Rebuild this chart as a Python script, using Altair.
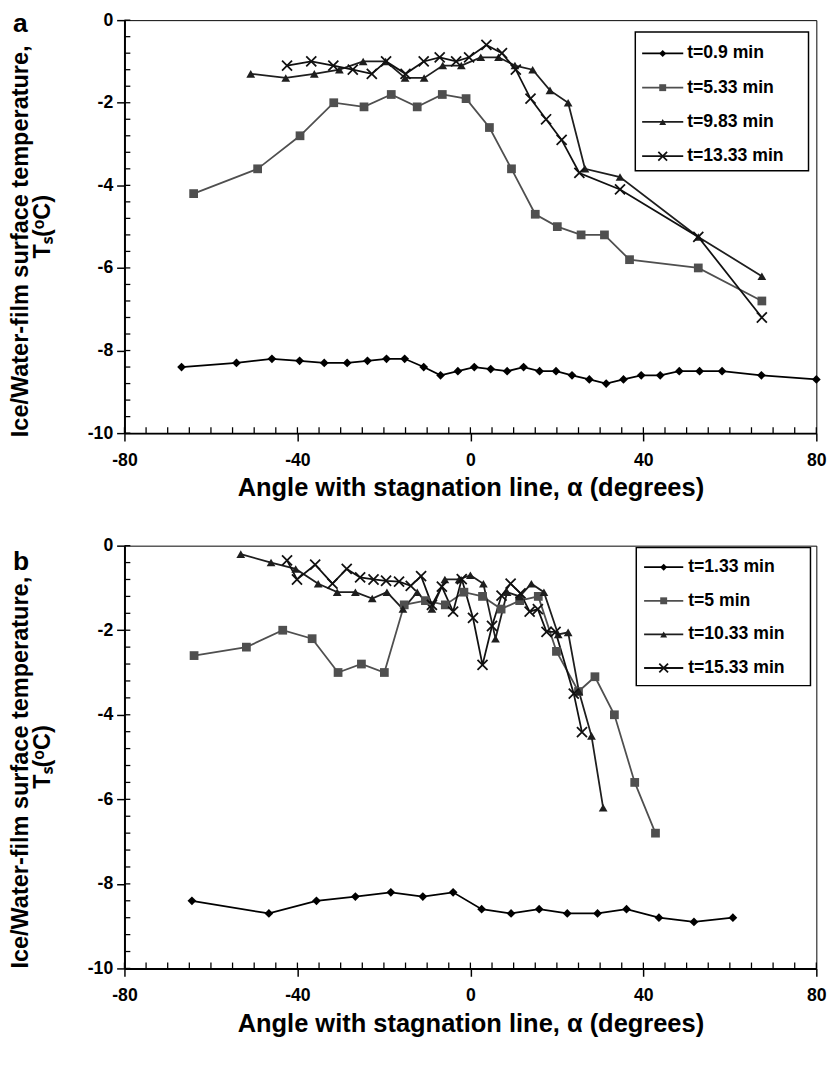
import altair as alt
import pandas as pd

FONT = "Liberation Sans"

# ---------------- Panel a data ----------------
A_LABELS = ["t=0.9 min", "t=5.33 min", "t=9.83 min", "t=13.33 min"]
A1_X = [-66.8, -54.1, -45.9, -39.5, -33.8, -28.5, -23.8, -19.4, -15.2, -10.8, -6.9, -2.9, 0.9, 4.7,
        8.5, 12.3, 16.0, 19.8, 23.5, 27.5, 31.4, 35.4, 39.5, 43.9, 48.3, 53.0, 58.2, 67.3, 80.0]
A1_Y = [-8.4, -8.3, -8.2, -8.25, -8.3, -8.3, -8.25, -8.2, -8.2, -8.4, -8.6, -8.5, -8.4, -8.45,
        -8.5, -8.4, -8.5, -8.5, -8.6, -8.7, -8.8, -8.7, -8.6, -8.6, -8.5, -8.5, -8.5, -8.6, -8.7]
A2_X = [-64.0, -49.2, -39.4, -31.6, -24.6, -18.3, -12.3, -6.5, -1.0, 4.4, 9.5, 15.0, 20.1, 25.6,
        31.0, 36.8, 52.7, 67.4]
A2_Y = [-4.2, -3.6, -2.8, -2.0, -2.1, -1.8, -2.1, -1.8, -1.9, -2.6, -3.6, -4.7, -5.0, -5.2,
        -5.2, -5.8, -6.0, -6.8]
A3_X = [-50.8, -42.7, -36.1, -30.3, -24.8, -19.6, -15.1, -10.7, -6.4, -2.1, 2.4, 6.5, 10.3, 14.4,
        18.4, 22.6, 26.5, 34.6, 52.7, 67.4]
A3_Y = [-1.3, -1.4, -1.3, -1.2, -1.0, -1.0, -1.4, -1.4, -1.1, -1.1, -0.9, -0.9, -1.1, -1.2,
        -1.7, -2.0, -3.6, -3.8, -5.25, -6.2]
A4_X = [-42.4, -36.8, -31.7, -27.2, -22.8, -19.5, -15.0, -10.8, -7.1, -3.3, -0.3, 3.7, 7.3, 10.5,
        13.9, 17.5, 21.1, 25.2, 34.6, 52.7, 67.4]
A4_Y = [-1.1, -1.0, -1.1, -1.2, -1.3, -1.0, -1.3, -1.0, -0.9, -1.0, -0.9, -0.6, -0.8, -1.2,
        -1.9, -2.4, -2.9, -3.7, -4.1, -5.25, -7.2]

# ---------------- Panel b data ----------------
B_LABELS = ["t=1.33 min", "t=5 min", "t=10.33 min", "t=15.33 min"]
B1_X = [-64.4, -46.6, -35.6, -26.6, -18.4, -11.0, -4.0, 2.6, 9.4, 15.9, 22.4, 29.4, 36.1, 43.6, 51.7, 60.7]
B1_Y = [-8.4, -8.7, -8.4, -8.3, -8.2, -8.3, -8.2, -8.6, -8.7, -8.6, -8.7, -8.7, -8.6, -8.8, -8.9, -8.8]
B2_X = [-63.9, -51.8, -43.4, -36.6, -30.6, -25.2, -19.9, -15.3, -10.4, -5.8, -1.5, 2.8, 7.1, 11.4,
        15.7, 19.9, 25.0, 28.8, 33.3, 38.0, 42.8]
B2_Y = [-2.6, -2.4, -2.0, -2.2, -3.0, -2.8, -3.0, -1.4, -1.3, -1.4, -1.1, -1.2, -1.5, -1.3,
        -1.2, -2.5, -3.45, -3.1, -4.0, -5.6, -6.8]
B3_X = [-53.1, -46.1, -40.4, -35.2, -30.8, -26.6, -22.7, -19.3, -15.6, -12.3, -8.9, -5.9, -2.6, 0.0,
        3.0, 5.8, 8.5, 11.4, 14.1, 17.0, 20.3, 22.6, 25.1, 28.0, 30.7]
B3_Y = [-0.2, -0.4, -0.55, -0.9, -1.1, -1.1, -1.25, -1.1, -1.5, -1.1, -1.5, -0.8, -0.8, -0.7,
        -0.9, -2.2, -1.1, -1.2, -0.9, -1.1, -2.1, -2.05, -3.45, -4.5, -6.2]
B4_X = [-42.4, -40.1, -35.9, -31.9, -28.6, -25.5, -22.4, -19.5, -16.5, -13.8, -11.4, -8.9, -6.6, -4.0,
        -2.0, 0.6, 2.8, 5.0, 7.2, 9.3, 11.6, 13.7, 15.6, 17.6, 19.7, 23.9, 25.8]
B4_Y = [-0.35, -0.8, -0.45, -0.9, -0.55, -0.75, -0.8, -0.83, -0.85, -0.95, -0.72, -1.4, -0.97, -1.56,
        -0.79, -1.71, -2.82, -1.9, -1.18, -0.9, -1.13, -1.56, -1.5, -2.04, -2.04, -3.5, -4.41]

# ticks
X_MAJOR = [-80, -40, 0, 40, 80]
Y_MAJOR = [0, -2, -4, -6, -8, -10]
X_MINOR = [v for v in range(-80, 81, 5)]
Y_MINOR = [round(-0.4 * k, 2) for k in range(0, 26)]

X_TITLE = "Angle with stagnation line, α (degrees)"
Y_TITLE1 = "Ice/Water-film surface temperature,"
Y_TITLE2 = "Tₛ(ᵒC)"

COLORS = ["#000000", "#4f4f4f", "#1e1e1e", "#111111"]
XPATH = "M-1,-1L1,1M-1,1L1,-1"
SHAPES = ["diamond", "square", "triangle-up", XPATH]

W = 707
TITLE_SIZE = 26
YTITLE_SIZE = 24
TICK_SIZE = 18
LEG_SIZE = 18


def build_panel(labels, xs, ys, height, letter, leg):
    rows = []
    for lab, xx, yy in zip(labels, xs, ys):
        for i, (a, b) in enumerate(zip(xx, yy)):
            rows.append({"series": lab, "x": a, "y": b, "i": i})
    df = pd.DataFrame(rows)

    xscale = alt.Scale(domain=[-80, 80], nice=False, zero=False)
    yscale = alt.Scale(domain=[-10, 0], nice=False, zero=False)
    color = alt.Color("series:N", scale=alt.Scale(domain=labels, range=COLORS), legend=None)
    shape = alt.Shape("series:N", scale=alt.Scale(domain=labels, range=SHAPES), legend=None)

    xaxis = alt.Axis(values=X_MAJOR, title=X_TITLE, tickSize=8, tickWidth=1.5, labelPadding=11,
                     titlePadding=6, domainWidth=2, labelFlush=False,
                     labelExpr="datum.value + ''")
    yaxis = alt.Axis(values=Y_MAJOR, title=None, tickSize=8, tickWidth=1.5, labelPadding=4,
                     domainWidth=2, labelFlush=False, labelExpr="datum.value + ''")

    base = alt.Chart(df)
    lines = base.mark_line(strokeWidth=1.8).encode(
        x=alt.X("x:Q", scale=xscale, axis=xaxis),
        y=alt.Y("y:Q", scale=yscale, axis=yaxis),
        color=color, detail="series:N", order="i:Q")
    filled = base.transform_filter(
        alt.FieldOneOfPredicate(field="series", oneOf=labels[:3])
    ).mark_point(filled=True, size=80, opacity=1).encode(
        x=alt.X("x:Q", scale=xscale),
        y=alt.Y("y:Q", scale=yscale, axis=None),
        color=color, shape=shape)
    crosses = base.transform_filter(
        alt.FieldEqualPredicate(field="series", equal=labels[3])
    ).mark_point(filled=False, size=105, strokeWidth=1.8, opacity=1).encode(
        x=alt.X("x:Q", scale=xscale),
        y=alt.Y("y:Q", scale=yscale, axis=None),
        color=color, shape=shape)

    # minor ticks (inside)
    xm = alt.Chart(pd.DataFrame({"v": X_MINOR})).mark_rule(color="black", strokeWidth=1.3).encode(
        x=alt.X("v:Q", scale=xscale), y=alt.value(height), y2=alt.value(height - 6))
    ym = alt.Chart(pd.DataFrame({"v": Y_MINOR})).mark_rule(color="black", strokeWidth=1.3).encode(
        y=alt.Y("v:Q", scale=yscale, axis=None), x=alt.value(0), x2=alt.value(6))

    # legend
    ldf = pd.DataFrame({"series": labels, "k": [0, 1, 2, 3]})
    lscale = alt.Scale(domain=[0, 3], range=[leg["y0"], leg["y3"]])
    lbase = alt.Chart(ldf)
    box = alt.Chart(pd.DataFrame({"z": [0]})).mark_rect(
        fill="white", stroke="black", strokeWidth=1.5).encode(
        x=alt.value(leg["bx0"]), x2=alt.value(leg["bx1"]),
        y=alt.value(leg["by0"]), y2=alt.value(leg["by1"]))
    lrule = lbase.mark_rule(strokeWidth=1.8).encode(
        y=alt.Y("k:Q", scale=lscale, axis=None), x=alt.value(leg["lx0"]), x2=alt.value(leg["lx1"]),
        color=color)
    lpts = lbase.transform_filter(
        alt.FieldOneOfPredicate(field="series", oneOf=labels[:3])
    ).mark_point(filled=True, size=50, opacity=1).encode(
        y=alt.Y("k:Q", scale=lscale, axis=None), x=alt.value((leg["lx0"] + leg["lx1"]) / 2),
        color=color, shape=shape)
    lx = lbase.transform_filter(
        alt.FieldEqualPredicate(field="series", equal=labels[3])
    ).mark_point(filled=False, size=80, strokeWidth=1.8, opacity=1).encode(
        y=alt.Y("k:Q", scale=lscale, axis=None), x=alt.value((leg["lx0"] + leg["lx1"]) / 2),
        color=color, shape=shape)
    ltext = lbase.mark_text(align="left", baseline="middle", font=FONT, fontWeight="bold",
                            fontSize=LEG_SIZE, color="black").encode(
        y=alt.Y("k:Q", scale=lscale, axis=None), x=alt.value(leg["tx"]), text="series:N")

    one = pd.DataFrame({"z": [0]})
    letter_mark = alt.Chart(one).mark_text(align="left", baseline="alphabetic", font=FONT,
                                           fontWeight="bold", fontSize=27, color="black").encode(
        x=alt.value(-114), y=alt.value(leg["letter_y"]), text=alt.value(letter))
    yt1 = alt.Chart(one).mark_text(angle=270, align="center", baseline="middle", font=FONT,
                                   fontWeight="bold", fontSize=YTITLE_SIZE, color="black").encode(
        x=alt.value(-106), y=alt.value(height / 2 + leg["t1_off"]), text=alt.value(Y_TITLE1))
    yt2 = alt.Chart(one).mark_text(angle=270, align="center", baseline="middle", font=FONT,
                                   fontWeight="bold", fontSize=YTITLE_SIZE, color="black").encode(
        x=alt.value(-83), y=alt.value(height / 2), text=alt.value(Y_TITLE2))

    layer = alt.layer(lines, filled, crosses, xm, ym, box, lrule, lpts, lx, ltext,
                      letter_mark, yt1, yt2).resolve_scale(y="independent").properties(
        width=W, height=height)
    return layer


leg_a = dict(bx0=522, bx1=699, by0=12, by1=154, lx0=529, lx1=571, tx=575, y0=34, y3=139,
             letter_y=12, t1_off=15)
leg_b = dict(bx0=523, bx1=701, by0=2, by1=143, lx0=531, lx1=571, tx=576, y0=22, y3=125,
             letter_y=25, t1_off=16)

pa = build_panel(A_LABELS, [A1_X, A2_X, A3_X, A4_X], [A1_Y, A2_Y, A3_Y, A4_Y], 422, "a", leg_a)
pb = build_panel(B_LABELS, [B1_X, B2_X, B3_X, B4_X], [B1_Y, B2_Y, B3_Y, B4_Y], 432, "b", leg_b)

chart = alt.vconcat(pa, pb, spacing=35).properties(
    padding={"left": 0, "top": -10, "right": 5, "bottom": 5}
).configure_view(stroke="black", strokeWidth=1).configure_axis(
    labelFont=FONT, labelFontWeight="bold", labelFontSize=TICK_SIZE, labelColor="black",
    titleFont=FONT, titleFontWeight="bold", titleFontSize=TITLE_SIZE, titleColor="black",
    domainColor="black", tickColor="black", grid=False
).configure_concat(spacing=35)

chart.save("out.html", embed_options={"renderer": "svg", "actions": False})
